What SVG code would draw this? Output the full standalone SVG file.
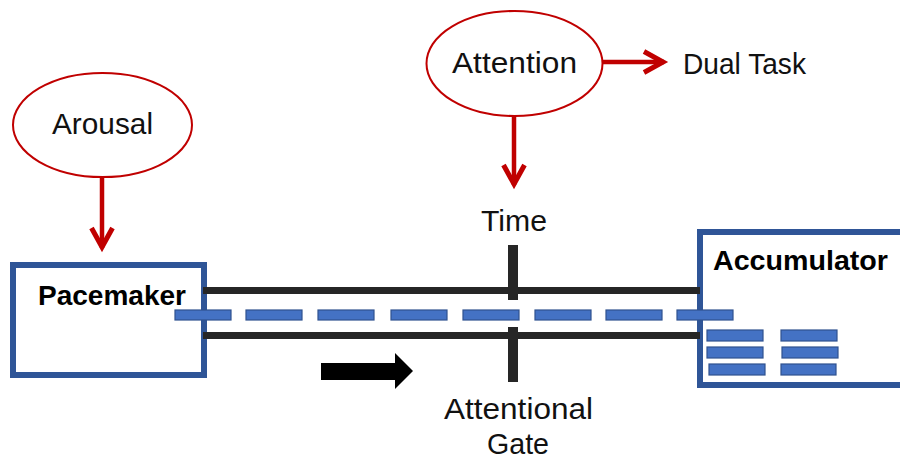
<svg xmlns="http://www.w3.org/2000/svg" width="900" height="461" viewBox="0 0 900 461">
  <style>
    .lbl { font-family: "Liberation Sans", Arial, sans-serif; font-size: 29px; fill: #111; }
    .bold { font-weight: bold; font-size: 28px; fill: #000; }
    .oval { fill: #fff; stroke: #C00000; stroke-width: 2; }
    .box { fill: #fff; stroke: #2F5597; stroke-width: 6; }
    .rail { fill: #262626; }
    .pulse { fill: #4472C4; stroke: #2F528F; stroke-width: 1.2; }
    .link { stroke: #C00000; stroke-width: 4.5; fill: none; marker-end: url(#vhead); }
  </style>
  <defs>
    <marker id="vhead" markerUnits="userSpaceOnUse" markerWidth="40" markerHeight="40" viewBox="-30 -20 40 40" refX="0" refY="0" orient="auto" overflow="visible">
      <path d="M-20,-10.5 L-1,0 L-20,10.5" fill="none" stroke="#C00000" stroke-width="5"/>
    </marker>
  </defs>
  <rect width="900" height="461" fill="#fff"/>

  <!-- Pacemaker -->
  <g id="pacemaker">
    <rect class="box" x="13" y="265" width="191" height="110"/>
    <text class="lbl bold" x="38" y="305" textLength="148" lengthAdjust="spacingAndGlyphs">Pacemaker</text>
  </g>

  <!-- Accumulator (runs off the right edge) -->
  <g id="accumulator">
    <rect class="box" x="700" y="232" width="220" height="153"/>
    <text class="lbl bold" x="713" y="270" textLength="175" lengthAdjust="spacingAndGlyphs">Accumulator</text>
    <rect class="pulse" x="707" y="330" width="56" height="11"/>
    <rect class="pulse" x="707" y="347" width="56" height="11"/>
    <rect class="pulse" x="709" y="364" width="56" height="11"/>
    <rect class="pulse" x="781" y="330" width="56" height="11"/>
    <rect class="pulse" x="782" y="347" width="56" height="11"/>
    <rect class="pulse" x="781" y="364" width="55" height="11"/>
  </g>

  <!-- Channel between pacemaker and accumulator -->
  <g id="channel">
    <rect class="rail" x="203" y="287" width="497" height="7"/>
    <rect class="rail" x="203" y="332" width="497" height="7"/>
    <rect class="pulse" x="175" y="310" width="56" height="10"/>
    <rect class="pulse" x="246" y="310" width="56" height="10"/>
    <rect class="pulse" x="318" y="310" width="56" height="10"/>
    <rect class="pulse" x="391" y="310" width="56" height="10"/>
    <rect class="pulse" x="463" y="310" width="56" height="10"/>
    <rect class="pulse" x="535" y="310" width="56" height="10"/>
    <rect class="pulse" x="606" y="310" width="56" height="10"/>
    <rect class="pulse" x="677" y="310" width="56" height="10"/>
    <polygon points="321,363 395,363 395,353 413,371 395,389 395,380 321,380" fill="#000"/>
  </g>

  <!-- Attentional gate -->
  <g id="gate">
    <rect class="rail" x="508" y="245" width="10" height="55"/>
    <rect class="rail" x="508" y="327" width="10" height="55"/>
    <text class="lbl" x="481" y="231" textLength="66" lengthAdjust="spacingAndGlyphs">Time</text>
    <text class="lbl" x="444" y="419" textLength="149" lengthAdjust="spacingAndGlyphs">Attentional</text>
    <text class="lbl" x="487" y="454" textLength="62" lengthAdjust="spacingAndGlyphs">Gate</text>
  </g>

  <!-- Arousal -->
  <g id="arousal">
    <ellipse class="oval" cx="102.5" cy="125" rx="89.5" ry="52"/>
    <text class="lbl" x="52" y="134" textLength="101" lengthAdjust="spacingAndGlyphs">Arousal</text>
  </g>

  <!-- Attention -->
  <g id="attention">
    <ellipse class="oval" cx="514.5" cy="63.5" rx="88" ry="52.5"/>
    <text class="lbl" x="452" y="73" textLength="125" lengthAdjust="spacingAndGlyphs">Attention</text>
  </g>

  <!-- Dual Task -->
  <g id="dual-task">
    <text class="lbl" x="683" y="74" textLength="123" lengthAdjust="spacingAndGlyphs">Dual Task</text>
  </g>

  <!-- Influence arrows -->
  <g id="connectors">
    <line class="link" x1="102" y1="177" x2="102" y2="248"/>
    <line class="link" x1="514" y1="116" x2="514" y2="185"/>
    <line class="link" x1="603" y1="62" x2="664" y2="62"/>
  </g>
</svg>
